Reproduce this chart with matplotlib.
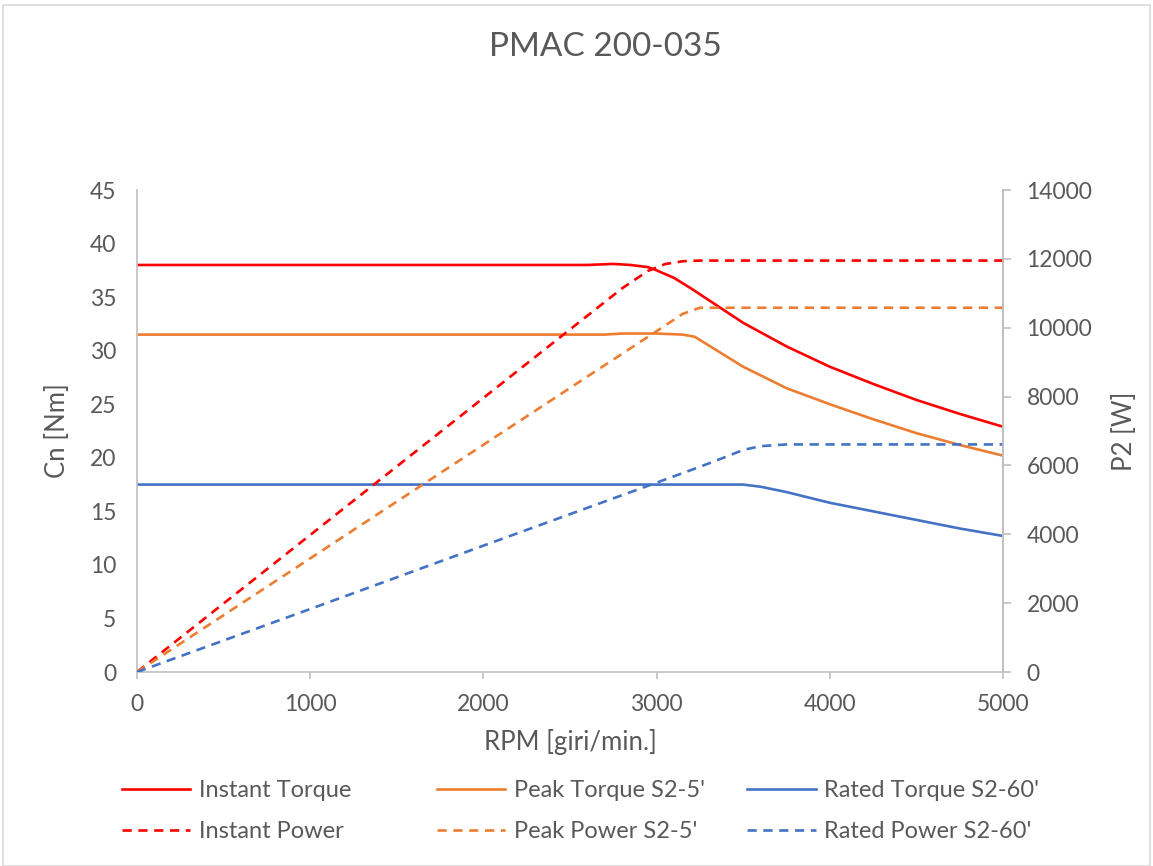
import matplotlib
matplotlib.use("Agg")
import matplotlib.pyplot as plt
from matplotlib.patches import Rectangle

plt.rcParams["font.family"] = ["Lato", "DejaVu Sans"]

TEXT = "#595959"
GRID = "#BFBFBF"
RED = "#FF0000"
ORANGE = "#ED7D31"
BLUE = "#4472C4"

# torque curves [Nm] vs rpm
rpm_it = [0, 1000, 2000, 2600, 2750, 2850, 2950, 3000, 3100, 3200, 3350, 3500, 3750, 4000, 4250, 4500, 4750, 5000]
instant_torque = [38.0, 38.0, 38.0, 38.0, 38.1, 38.0, 37.8, 37.5, 36.8, 35.8, 34.2, 32.6, 30.4, 28.5, 26.9, 25.4, 24.1, 22.9]

rpm_pt = [0, 1000, 2000, 2700, 2800, 3000, 3150, 3220, 3300, 3500, 3750, 4000, 4250, 4500, 4750, 5000]
peak_torque = [31.5, 31.5, 31.5, 31.5, 31.6, 31.6, 31.5, 31.3, 30.5, 28.5, 26.5, 25.0, 23.6, 22.3, 21.2, 20.2]

rpm_rt = [0, 1000, 2000, 3000, 3500, 3600, 3750, 4000, 4250, 4500, 4750, 5000]
rated_torque = [17.5, 17.5, 17.5, 17.5, 17.5, 17.3, 16.8, 15.8, 15.0, 14.2, 13.4, 12.7]

# power curves [W] vs rpm
rpm_ip = [0, 1000, 2000, 2500, 2800, 2950, 3050, 3150, 3250, 4000, 5000]
instant_power = [0, 3980, 7960, 9950, 11140, 11650, 11850, 11930, 11950, 11950, 11950]

rpm_pp = [0, 1000, 2000, 3000, 3150, 3250, 4000, 5000]
peak_power = [0, 3300, 6600, 9900, 10400, 10580, 10580, 10580]

rpm_rp = [0, 1000, 2000, 3000, 3250, 3400, 3500, 3600, 3750, 4000, 5000]
rated_power = [0, 1830, 3670, 5500, 5960, 6250, 6450, 6560, 6610, 6610, 6610]

fig = plt.figure(figsize=(11.53, 8.66), dpi=100)
fig.patches.append(Rectangle((0.003, 0.0), 0.994, 0.994, transform=fig.transFigure,
                             fill=False, edgecolor="#D9D9D9", linewidth=1.2))

ax = fig.add_axes([0.1188, 0.224, 0.7511, 0.5566])
ax2 = ax.twinx()

lw = 1.9
dash = (0, (3.5, 2.5))
l1, = ax.plot(rpm_it, instant_torque, color=RED, lw=lw, label="Instant Torque")
l2, = ax.plot(rpm_pt, peak_torque, color=ORANGE, lw=lw, label="Peak Torque S2-5'")
l3, = ax.plot(rpm_rt, rated_torque, color=BLUE, lw=lw, label="Rated Torque S2-60'")
l4, = ax2.plot(rpm_ip, instant_power, color=RED, lw=lw, ls=dash, label="Instant Power")
l5, = ax2.plot(rpm_pp, peak_power, color=ORANGE, lw=lw, ls=dash, label="Peak Power S2-5'")
l6, = ax2.plot(rpm_rp, rated_power, color=BLUE, lw=lw, ls=dash, label="Rated Power S2-60'")

ax.set_xlim(0, 5000)
ax.set_ylim(0, 45)
ax.set_xticks(range(0, 5001, 1000))
ax.set_yticks(range(0, 46, 5))
ax2.set_ylim(0, 14000)
ax2.set_yticks(range(0, 14001, 2000))

for a in (ax, ax2):
    a.spines["top"].set_visible(False)
    for side in ("left", "right", "bottom"):
        a.spines[side].set_color(GRID)
        a.spines[side].set_linewidth(1.2)
ax2.spines["left"].set_visible(False)
ax2.spines["bottom"].set_visible(False)

ax.tick_params(axis="y", length=0, pad=15, labelsize=16.5, labelcolor=TEXT)
ax.tick_params(axis="x", length=5, width=1.2, color=GRID, pad=11, labelsize=16.5, labelcolor=TEXT)
ax2.tick_params(axis="y", length=6, width=1.2, color=GRID, pad=11, labelsize=16.5, labelcolor=TEXT)

ax.set_xlabel("RPM [giri/min.]", fontsize=18.5, color=TEXT, labelpad=10)
ax.set_ylabel("Cn [Nm]", fontsize=18.5, color=TEXT, labelpad=14)
ax2.set_ylabel("P2 [W]", fontsize=18.5, color=TEXT, labelpad=14)

fig.text(0.525, 0.946, "PMAC 200-035", ha="center", va="center", fontsize=24, color=TEXT)

# legend: three equal-width columns like the Excel layout
columns = [(l1, l4), (l2, l5), (l3, l6)]
col_x = [0.1058, 0.379, 0.648]
for pair, x in zip(columns, col_x):
    leg = fig.legend(list(pair), [h.get_label() for h in pair], loc="center left",
                     bbox_to_anchor=(x, 0.063), frameon=False, fontsize=17,
                     handlelength=2.9, handletextpad=0.35, labelspacing=0.85,
                     borderpad=0, borderaxespad=0)
    for t in leg.get_texts():
        t.set_color(TEXT)

fig.savefig("out.png", dpi=100)
